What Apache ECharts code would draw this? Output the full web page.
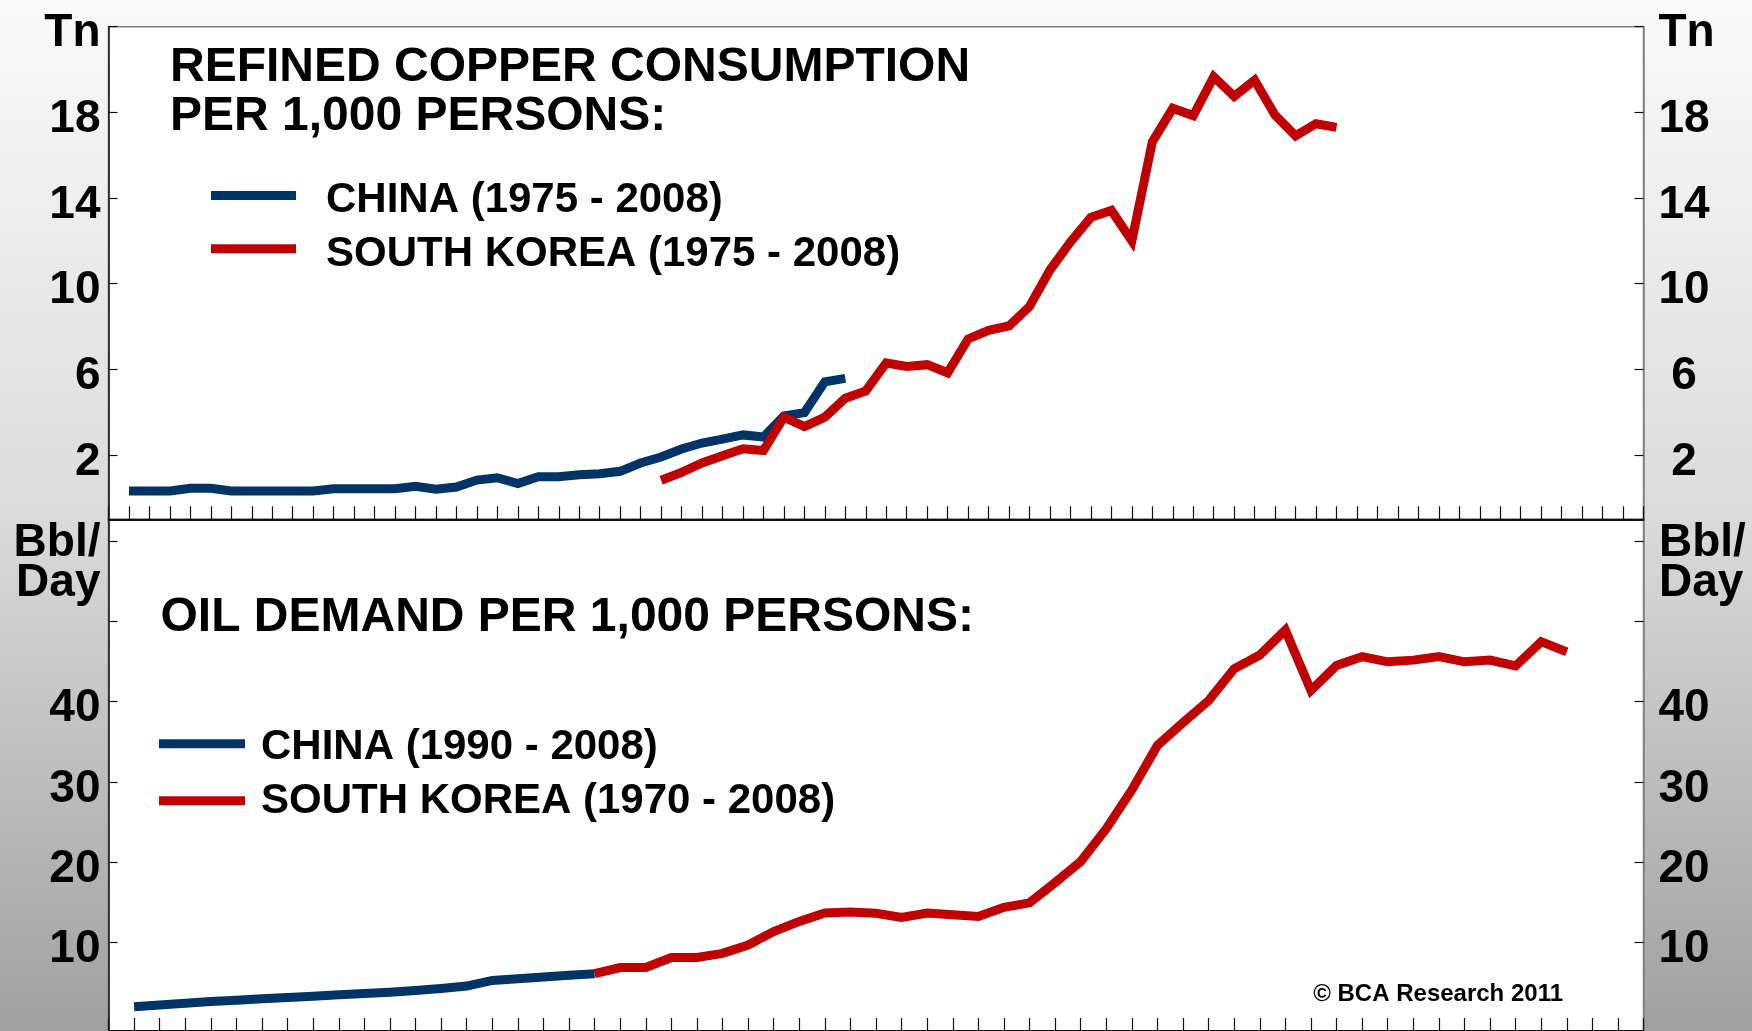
<!DOCTYPE html>
<html><head><meta charset="utf-8">
<script src="https://cdn.jsdelivr.net/npm/echarts@6/dist/echarts.min.js"></script>
<style>
html,body{margin:0;padding:0;}
body{background:linear-gradient(to bottom,#fafafa 0%,#dcdcdc 48.5%,#a0a0a0 100%);}
#c{width:1752px;height:1031px;}
</style></head><body><div id="c"></div>
<script>
// ---- data ----
// top panel: refined copper consumption per 1,000 persons (Tn), x = aligned year index
const copperChinaStart = 0;
const copperChina = [0.32, 0.32, 0.32, 0.45, 0.45, 0.32, 0.32, 0.32, 0.32, 0.32, 0.43, 0.43, 0.43, 0.43, 0.54, 0.40, 0.51, 0.83, 0.94, 0.67, 0.99, 0.99, 1.08, 1.13, 1.24, 1.63, 1.91, 2.28, 2.56, 2.74, 2.94, 2.84, 3.83, 3.98, 5.42, 5.58];
const copperKoreaStart = 26;
const copperKorea = [0.82, 1.19, 1.63, 1.97, 2.29, 2.21, 3.77, 3.33, 3.77, 4.65, 4.99, 6.30, 6.14, 6.22, 5.84, 7.42, 7.82, 8.03, 8.94, 10.64, 11.95, 13.10, 13.42, 12.00, 16.62, 18.19, 17.85, 19.66, 18.75, 19.50, 17.87, 16.90, 17.47, 17.30];
// bottom panel: oil demand per 1,000 persons (Bbl/Day)
const oilChinaStart = 0;
const oilChina = [2.03, 2.24, 2.45, 2.66, 2.83, 3.00, 3.16, 3.33, 3.50, 3.66, 3.83, 4.04, 4.29, 4.59, 5.30, 5.51, 5.72, 5.93, 6.14];
const oilKoreaStart = 18;
const oilKorea = [6.14, 6.90, 6.90, 8.15, 8.15, 8.66, 9.70, 11.38, 12.64, 13.69, 13.82, 13.65, 13.15, 13.69, 13.48, 13.27, 14.40, 14.95, 17.47, 20.10, 24.18, 29.00, 34.55, 37.40, 40.13, 44.10, 45.80, 48.90, 41.40, 44.50, 45.60, 44.96, 45.17, 45.60, 44.96, 45.17, 44.45, 47.47, 46.20];

const copperTickValues = [2, 6, 10, 14, 18];
const copperUnitValue = 22;
const copperUnitLabel = 'Tn';
const oilTickValues = [10, 20, 30, 40, 50, 60];
const oilLabelValues = [10, 20, 30, 40];
const oilUnitLabel = 'Bbl/\nDay';

const copperTitle = ['REFINED COPPER CONSUMPTION', 'PER 1,000 PERSONS:'];
const copperLegend = ['CHINA (1975 - 2008)', 'SOUTH KOREA (1975 - 2008)'];
const oilTitle = 'OIL DEMAND PER 1,000 PERSONS:';
const oilLegend = ['CHINA (1990 - 2008)', 'SOUTH KOREA (1970 - 2008)'];
const credit = '\u00A9 BCA Research 2011';

// ---- build ----
const BLUE = '#003366', RED = '#c00000';
const FF = '"Liberation Sans", Arial, Helvetica, sans-serif';
const toPairs = (start, arr) => arr.map((v, i) => [start + i, v]);

const chart = echarts.init(document.getElementById('c'), null, {renderer: 'canvas'});

const gridL = 108.5, gridR = 1752 - 1643.5;
const tickLabelStyle = {fontFamily: FF, fontWeight: 'bold', fontSize: 46, color: '#000', verticalAlign: 'top', lineHeight: 14};

function xAxisCfg(gridIndex, max) {
  return {
    type: 'value', gridIndex, min: -1, max, interval: 1,
    axisLine: {show: true, onZero: false, lineStyle: {color: '#111', width: 2}},
    axisTick: {show: true, inside: true, length: 13, lineStyle: {color: '#111', width: 1.2}},
    axisLabel: {show: false}, splitLine: {show: false}
  };
}
function yAxisCfg(gridIndex, pos, min, max, ticks, labels, fmt, lineColor) {
  return {
    type: 'value', gridIndex, position: pos, min, max,
    axisLine: {show: true, onZero: false, lineStyle: {color: lineColor, width: 1.5}},
    axisTick: {show: true, inside: true, length: 9, customValues: ticks, lineStyle: {color: '#111', width: 1.2}},
    axisLabel: Object.assign({show: true, customValues: labels, formatter: fmt, margin: pos === 'left' ? 8 : 15}, tickLabelStyle),
    splitLine: {show: false}
  };
}

const copperFmtL = v => (v === copperUnitValue ? copperUnitLabel : String(v));
const copperFmtR = v => (v === copperUnitValue ? copperUnitLabel : (v < 10 ? ' ' + v : String(v)));
const oilFmtL = v => String(v);
const oilFmtR = v => (v < 10 ? ' ' + v : String(v));

const textEl = (text, x, y, size, align) => ({
  type: 'text', x, y, silent: true,
  style: {text, fill: '#000', font: 'bold ' + size + 'px ' + FF, textAlign: align || 'left', textVerticalAlign: 'middle', lineHeight: 40}
});
const swatch = (x, y, w, color) => ({
  type: 'rect', silent: true, shape: {x, y: y - 4.5, width: w, height: 9}, style: {fill: color}
});

const option = {
  animation: false,
  backgroundColor: 'transparent',
  grid: [
    {left: gridL, right: gridR, top: 26.7, height: 492.6, show: true, backgroundColor: '#fff', borderColor: '#808080', borderWidth: 1.5},
    {left: gridL, right: gridR, top: 519.3, height: 514.1, show: true, backgroundColor: '#fff', borderColor: '#808080', borderWidth: 1.5}
  ],
  xAxis: [xAxisCfg(0, 74), xAxisCfg(1, 59)],
  yAxis: [
    yAxisCfg(0, 'left', -1, 22, copperTickValues.concat([copperUnitValue]), copperTickValues.concat([copperUnitValue]), copperFmtL, '#111'),
    yAxisCfg(0, 'right', -1, 22, copperTickValues.concat([copperUnitValue]), copperTickValues.concat([copperUnitValue]), copperFmtR, '#808080'),
    yAxisCfg(1, 'left', -1, 62.7, oilTickValues, oilLabelValues, oilFmtL, '#111'),
    yAxisCfg(1, 'right', -1, 62.7, oilTickValues, oilLabelValues, oilFmtR, '#808080')
  ],
  series: [
    {name: copperLegend[0], type: 'line', xAxisIndex: 0, yAxisIndex: 0, data: toPairs(copperChinaStart, copperChina), showSymbol: false, lineStyle: {color: BLUE, width: 9, join: 'miter', cap: 'butt'}, z: 3},
    {name: copperLegend[1], type: 'line', xAxisIndex: 0, yAxisIndex: 0, data: toPairs(copperKoreaStart, copperKorea), showSymbol: false, lineStyle: {color: RED, width: 9, join: 'miter', cap: 'butt'}, z: 4},
    {name: oilLegend[0], type: 'line', xAxisIndex: 1, yAxisIndex: 2, data: toPairs(oilChinaStart, oilChina), showSymbol: false, lineStyle: {color: BLUE, width: 9, join: 'miter', cap: 'butt'}, z: 3},
    {name: oilLegend[1], type: 'line', xAxisIndex: 1, yAxisIndex: 2, data: toPairs(oilKoreaStart, oilKorea), showSymbol: false, lineStyle: {color: RED, width: 9, join: 'miter', cap: 'butt'}, z: 4}
  ],
  graphic: [
    textEl(copperTitle[0], 170, 67.5, 48),
    textEl(copperTitle[1], 170, 116.5, 48),
    swatch(211, 195.6, 85, BLUE),
    swatch(211, 248.7, 85, RED),
    textEl(copperLegend[0], 326, 200, 42),
    textEl(copperLegend[1], 326, 254, 42),
    textEl(oilTitle, 160.5, 617.5, 48),
    swatch(159, 743.8, 86, BLUE),
    swatch(159, 800.7, 86, RED),
    textEl(oilLegend[0], 261, 747, 42),
    textEl(oilLegend[1], 261, 801.5, 42),
    textEl(credit, 1563, 994, 24, 'right'),
    textEl(oilUnitLabel, 100.5, 563, 46, 'right'),
    textEl(oilUnitLabel, 1659, 563, 46, 'left')
  ]
};
chart.setOption(option);
</script></body></html>
